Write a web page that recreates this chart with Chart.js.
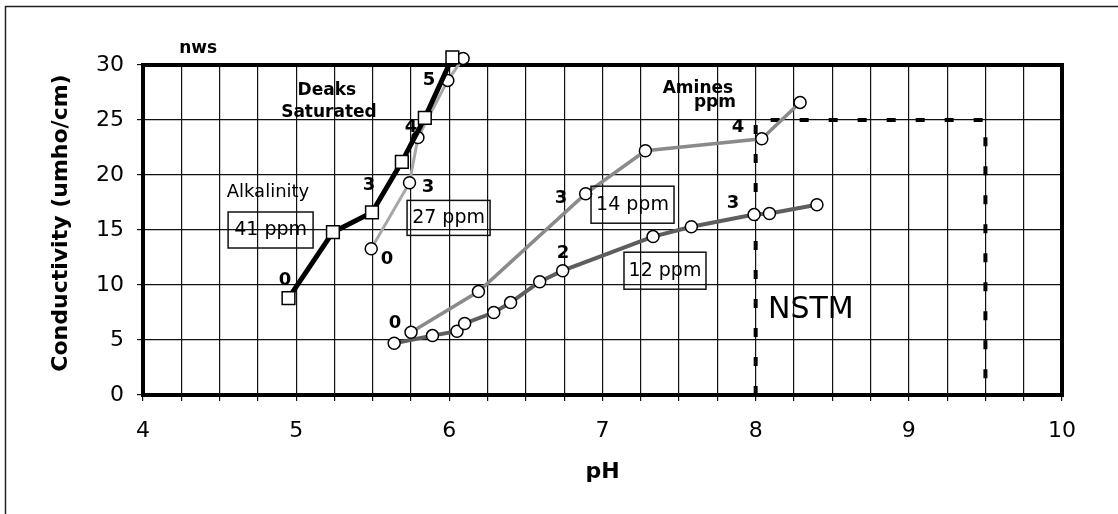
<!DOCTYPE html>
<html>
<head>
<meta charset="utf-8">
<script src="https://cdn.jsdelivr.net/npm/chart.js@4.4.0/dist/chart.umd.min.js"></script>
<style>
  html, body { margin: 0; padding: 0; background: #fff; }
</style>
</head>
<body>
<canvas id="myChart" width="1118" height="514"></canvas>
<script>
// data (pH, conductivity)
const alkPH = [4.95, 5.24, 5.495, 5.69, 5.84, 6.02];
const alkCond = [8.8, 14.8, 16.6, 21.2, 25.2, 30.7];
const deaksPH = [5.49, 5.74, 5.795, 5.99, 6.09];
const deaksCond = [13.3, 19.3, 23.4, 28.6, 30.6];
const am14PH = [5.75, 6.19, 6.89, 7.28, 8.04, 8.29];
const am14Cond = [5.7, 9.4, 18.3, 22.2, 23.3, 26.6];
const am12PH = [5.64, 5.89, 6.05, 6.10, 6.29, 6.40, 6.59, 6.74, 7.33, 7.58, 7.99, 8.09, 8.40];
const am12Cond = [4.7, 5.4, 5.8, 6.5, 7.5, 8.4, 10.3, 11.3, 14.4, 15.3, 16.4, 16.5, 17.3];
const nstmPH = [8, 8, 9.5, 9.5];
const nstmCond = [0, 25, 25, 0];
const xTickLabels = ['4', '5', '6', '7', '8', '9', '10'];
const yTickLabels = ['0', '5', '10', '15', '20', '25', '30'];

const F = 'DejaVu Sans';
const pts = (xs, ys) => xs.map((x, i) => ({ x: x, y: ys[i] }));

// text notes placed in data units
const notes = [
  ['nws', 4.36, 31.5, 'bold 17px'],
  ['Deaks', 5.20, 27.7, 'bold 17px'],
  ['Saturated', 5.214, 25.7, 'bold 17px'],
  ['Alkalinity', 4.816, 18.4, '18px'],
  ['41 ppm', 4.833, 15.0, '19px'],
  ['27 ppm', 5.995, 16.1, '19px'],
  ['14 ppm', 7.196, 17.3, '19px'],
  ['12 ppm', 7.408, 11.3, '19px'],
  ['Amines', 7.623, 27.9, 'bold 17px'],
  ['ppm', 7.734, 26.6, 'bold 17px'],
  ['NSTM', 8.36, 7.7, '30px'],
  ['0', 4.927, 10.45, 'bold 18px'],
  ['3', 5.475, 19.1, 'bold 18px'],
  ['4', 5.75, 24.3, 'bold 18px'],
  ['5', 5.867, 28.6, 'bold 18px'],
  ['0', 5.593, 12.3, 'bold 18px'],
  ['3', 5.861, 18.9, 'bold 18px'],
  ['0', 5.645, 6.5, 'bold 18px'],
  ['3', 6.729, 17.9, 'bold 18px'],
  ['4', 7.885, 24.3, 'bold 18px'],
  ['2', 6.742, 12.9, 'bold 18px'],
  ['3', 7.852, 17.4, 'bold 18px']
];
const boxes = [[4.833, 15.0, 85, 36], [5.995, 16.1, 83, 35], [7.196, 17.3, 83, 37], [7.408, 11.3, 82, 37]];

const decor = {
  id: 'decor',
  beforeDraw(chart) {
    const c = chart.ctx;
    c.save();
    c.fillStyle = '#fff';
    c.fillRect(0, 0, chart.width, chart.height);
    c.strokeStyle = '#222';
    c.lineWidth = 1.5;
    c.beginPath();
    c.moveTo(5.5, chart.height);
    c.lineTo(5.5, 6.5);
    c.lineTo(chart.width, 6.5);
    c.stroke();
    c.restore();
  },
  beforeDatasetsDraw(chart) {
    const c = chart.ctx, a = chart.chartArea;
    c.save();
    c.strokeStyle = '#000';
    c.lineWidth = 4;
    c.strokeRect(a.left, a.top, a.right - a.left, a.bottom - a.top);
    c.restore();
  },
  afterDatasetsDraw(chart) {
    const c = chart.ctx, xs = chart.scales.x, ys = chart.scales.y;
    c.save();
    c.fillStyle = '#000';
    c.textAlign = 'center';
    c.textBaseline = 'middle';
    notes.forEach(n => {
      c.font = n[3] + ' "' + F + '"';
      c.fillText(n[0], xs.getPixelForValue(n[1]), ys.getPixelForValue(n[2]));
    });
    c.strokeStyle = '#111';
    c.lineWidth = 1.5;
    boxes.forEach(b => {
      const px = xs.getPixelForValue(b[0]), py = ys.getPixelForValue(b[1]);
      c.strokeRect(px - b[2] / 2, py - b[3] / 2, b[2], b[3]);
    });
    // axis titles
    c.font = 'bold 22px "' + F + '"';
    c.fillText('pH', (chart.chartArea.left + chart.chartArea.right) / 2, 472);
    c.translate(61, (chart.chartArea.top + chart.chartArea.bottom) / 2 - 7);
    c.rotate(-Math.PI / 2);
    c.fillText('Conductivity (umho/cm)', 0, 0);
    c.restore();
  }
};

const cxt = document.getElementById('myChart').getContext('2d');
const myChart = new Chart(cxt, {
  type: 'line',
  data: {
    datasets: [
      {
        label: 'Alkalinity 41 ppm',
        data: pts(alkPH, alkCond),
        borderColor: '#000',
        borderWidth: 5,
        pointStyle: 'rect',
        pointRadius: 9,
        pointBackgroundColor: '#fff',
        pointBorderColor: '#000',
        pointBorderWidth: 1.5,
        clip: false
      },
      {
        label: 'Deaks Saturated 27 ppm',
        data: pts(deaksPH, deaksCond),
        borderColor: '#a8a8a8',
        borderWidth: 3,
        pointRadius: 6,
        pointBackgroundColor: '#fff',
        pointBorderColor: '#000',
        pointBorderWidth: 1.5,
        clip: false
      },
      {
        label: 'Amines 14 ppm',
        data: pts(am14PH, am14Cond),
        borderColor: '#8a8a8a',
        borderWidth: 3.5,
        pointRadius: 6,
        pointBackgroundColor: '#fff',
        pointBorderColor: '#000',
        pointBorderWidth: 1.5
      },
      {
        label: 'Amines 12 ppm',
        data: pts(am12PH, am12Cond),
        borderColor: '#5e5e5e',
        borderWidth: 4,
        pointRadius: 6,
        pointBackgroundColor: '#fff',
        pointBorderColor: '#000',
        pointBorderWidth: 1.5
      },
      {
        label: 'NSTM',
        data: pts(nstmPH, nstmCond),
        borderColor: '#000',
        borderWidth: 4,
        borderDash: [9, 20],
        pointRadius: 0
      }
    ]
  },
  options: {
    responsive: false,
    animation: false,
    layout: { padding: { top: 65, right: 56, left: 0, bottom: 0 } },
    plugins: { legend: { display: false }, tooltip: { enabled: false } },
    scales: {
      x: {
        type: 'linear',
        min: 4,
        max: 10,
        afterFit(scale) { scale.height = 119; },
        border: { display: false },
        grid: { color: '#111', lineWidth: 1.2, tickLength: 6 },
        ticks: {
          stepSize: 0.25,
          autoSkip: false,
          maxRotation: 0,
          padding: 17,
          color: '#000',
          font: { family: F, size: 22 },
          callback: v => Number.isInteger(v) ? xTickLabels[v - 4] : ''
        }
      },
      y: {
        min: 0,
        max: 30,
        afterFit(scale) { scale.width = 143; },
        border: { display: false },
        grid: { color: '#111', lineWidth: 1.2, tickLength: 6 },
        ticks: {
          stepSize: 5,
          padding: 13,
          color: '#000',
          font: { family: F, size: 22 },
          callback: v => yTickLabels[v / 5]
        }
      }
    }
  },
  plugins: [decor]
});
</script>
</body>
</html>
